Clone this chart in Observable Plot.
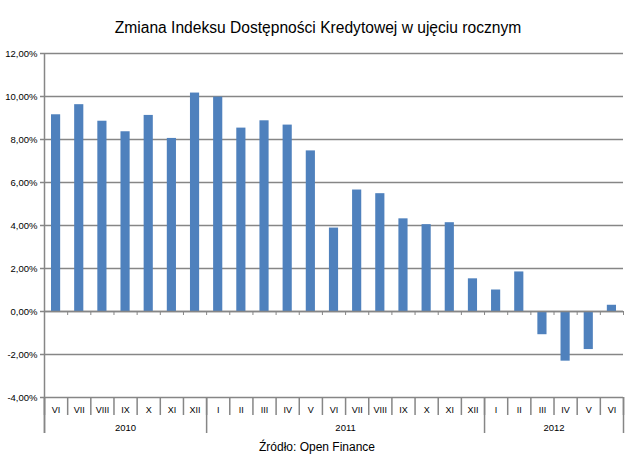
<!DOCTYPE html>
<html>
<head>
<meta charset="utf-8">
<script src="https://cdn.jsdelivr.net/npm/d3@7"></script>
<script src="https://cdn.jsdelivr.net/npm/@observablehq/plot@0.6"></script>
<style>
  html, body { margin: 0; padding: 0; background: #fff; }
  body { width: 640px; height: 460px; overflow: hidden; font-family: "Liberation Sans", Arial, sans-serif; }
  #title { height: 40px; box-sizing: border-box; padding-top: 19px; font-size: 15.6px; line-height: 18px; text-align: center; color: #000; padding-right: 4px; }
  #chart svg { display: block; }
  #caption { height: 20px; font-size: 12px; line-height: 14px; text-align: center; color: #000; padding-right: 6px; }
</style>
</head>
<body>
<div id="title">Zmiana Indeksu Dostępności Kredytowej w ujęciu rocznym</div>
<div id="chart"></div>
<div id="caption">Źródło: Open Finance</div>
<script>
const months = ["VI","VII","VIII","IX","X","XI","XII",
                "I","II","III","IV","V","VI","VII","VIII","IX","X","XI","XII",
                "I","II","III","IV","V","VI"];
const values = [9.15, 9.62, 8.85, 8.36, 9.12, 8.05, 10.16,
                9.97, 8.53, 8.87, 8.67, 7.47, 3.88, 5.65, 5.48, 4.31, 4.04, 4.13, 1.52,
                1.0, 1.84, -1.08, -2.31, -1.77, 0.29];
const yearLabels = ["2010", "2011", "2012"];
const yearCounts = [7, 12, 6];
const yTicks = [-4, -2, 0, 2, 4, 6, 8, 10, 12];

const data = months.map((m, i) => ({i, month: m, value: values[i]}));
const n = months.length;
const boundaries = d3.range(n + 1);
let acc = 0;
const years = yearLabels.map((y, k) => {
  const start = acc; acc += yearCounts[k];
  return {label: y, start, end: acc};
});
const yearBounds = [0, ...years.map(d => d.end)];

const gray = "#868686";
const fmt = d => d.toFixed(2).replace(".", ",") + "%";

const chart = Plot.plot({
  width: 640,
  height: 400,
  marginTop: 13,
  marginBottom: 43,
  marginLeft: 44,
  marginRight: 17,
  style: {fontFamily: "'Liberation Sans', Arial, sans-serif", background: "#fff"},
  x: {type: "linear", domain: [0, n], axis: null},
  y: {domain: [-4, 12]},
  marks: [
    Plot.gridY(yTicks, {stroke: gray, strokeOpacity: 1, strokeWidth: 1.5}),
    Plot.axisY(yTicks, {tickFormat: fmt, tickSize: 4, tickPadding: 3, fontSize: 9.5, stroke: gray, strokeWidth: 1.5, fill: "#000", label: null}),
    Plot.rectY(data, {x1: "i", x2: d => d.i + 1, y1: 0, y2: "value", fill: "#4F81BD", insetLeft: 7, insetRight: 7}),
    Plot.ruleY([0], {stroke: gray, strokeWidth: 1.5}),
    Plot.ruleX(boundaries, {y1: 0, y2: 0, insetBottom: -4, stroke: gray, strokeWidth: 1}),
    Plot.ruleX(boundaries, {y1: -4, y2: -4, insetBottom: -18, stroke: gray, strokeWidth: 1.5}),
    Plot.ruleX(yearBounds, {y1: -4, y2: -4, insetBottom: -36, stroke: gray, strokeWidth: 1.5}),
    Plot.ruleX([0], {y1: 12, y2: -4, insetBottom: -36, stroke: gray, strokeWidth: 1.5}),
    Plot.text(data, {x: d => d.i + 0.5, y: -4, text: "month", dy: 13, fontSize: 9, fill: "#000"}),
    Plot.text(years, {x: d => (d.start + d.end) / 2, y: -4, text: "label", dy: 30, fontSize: 9.5, fill: "#000"})
  ]
});
document.getElementById("chart").appendChild(chart);
</script>
</body>
</html>
